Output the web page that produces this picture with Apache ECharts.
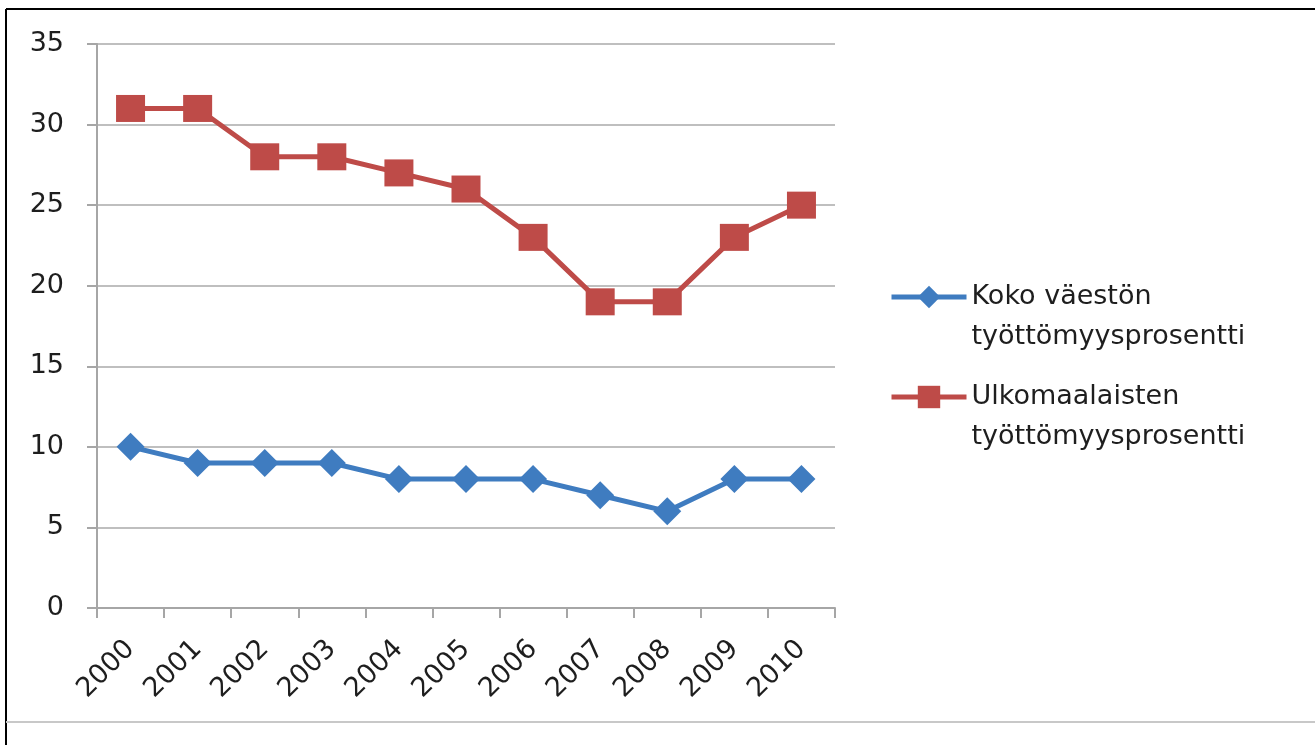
<!DOCTYPE html>
<html>
<head>
<meta charset="utf-8">
<script src="https://cdn.jsdelivr.net/npm/echarts@6/dist/echarts.min.js"></script>
<style>
html,body{margin:0;padding:0;background:#fff;}
#chart{width:1315px;height:745px;}
</style>
</head>
<body>
<div id="chart"></div>
<script>
const years = ['2000','2001','2002','2003','2004','2005','2006','2007','2008','2009','2010'];
const kokoName = 'Koko väestön\ntyöttömyysprosentti';
const ulkoName = 'Ulkomaalaisten\ntyöttömyysprosentti';
const kokoValues = [10, 9, 9, 9, 8, 8, 8, 7, 6, 8, 8];
const ulkoValues = [31, 31, 28, 28, 27, 26, 23, 19, 19, 23, 25];

const chart = echarts.init(document.getElementById('chart'), null, {renderer: 'canvas'});
const FONT = 'DejaVu Sans';
const TXT = '#1e1e1e';
chart.setOption({
  animation: false,
  backgroundColor: '#ffffff',
  textStyle: {fontFamily: FONT},
  graphic: [
    {type: 'line', shape: {x1: 6, y1: 9, x2: 1315, y2: 9}, style: {stroke: '#000', lineWidth: 2}},
    {type: 'line', shape: {x1: 6, y1: 9, x2: 6, y2: 745}, style: {stroke: '#000', lineWidth: 2}},
    {type: 'line', shape: {x1: 6, y1: 722, x2: 1315, y2: 722}, style: {stroke: '#c8c8c8', lineWidth: 2}}
  ],
  grid: {left: 97, right: 480, top: 44, bottom: 137, containLabel: false},
  legend: {
    orient: 'vertical',
    left: 884,
    top: 232,
    itemWidth: 75,
    itemHeight: 28,
    itemGap: -20,
    selectedMode: false,
    lineStyle: {width: 5},
    data: [kokoName, ulkoName],
    formatter: function (name) { return '\n' + name; },
    textStyle: {fontFamily: FONT, fontSize: 27, color: TXT, lineHeight: 40}
  },
  xAxis: {
    type: 'category',
    data: years,
    boundaryGap: true,
    axisLine: {lineStyle: {color: '#a6a6a6', width: 2}},
    axisTick: {show: true, length: 10, lineStyle: {color: '#a6a6a6', width: 2}},
    axisLabel: {rotate: 45, fontSize: 27, color: TXT, margin: 37, fontFamily: FONT, interval: 0}
  },
  yAxis: {
    type: 'value',
    min: 0, max: 35, interval: 5,
    axisLine: {show: true, lineStyle: {color: '#a6a6a6', width: 2}},
    axisTick: {show: true, length: 10, lineStyle: {color: '#a6a6a6', width: 2}},
    axisLabel: {fontSize: 27, color: TXT, margin: 33, fontFamily: FONT},
    splitLine: {lineStyle: {color: '#bfbfbf', width: 2}}
  },
  series: [
    {
      name: kokoName, type: 'line', data: kokoValues,
      symbol: 'diamond', symbolSize: 28,
      lineStyle: {color: '#3f7cc0', width: 5},
      itemStyle: {color: '#3f7cc0'}
    },
    {
      name: ulkoName, type: 'line', data: ulkoValues,
      symbol: 'rect', symbolSize: [29, 27],
      lineStyle: {color: '#be4b48', width: 5},
      itemStyle: {color: '#be4b48'}
    }
  ]
});
</script>
</body>
</html>
